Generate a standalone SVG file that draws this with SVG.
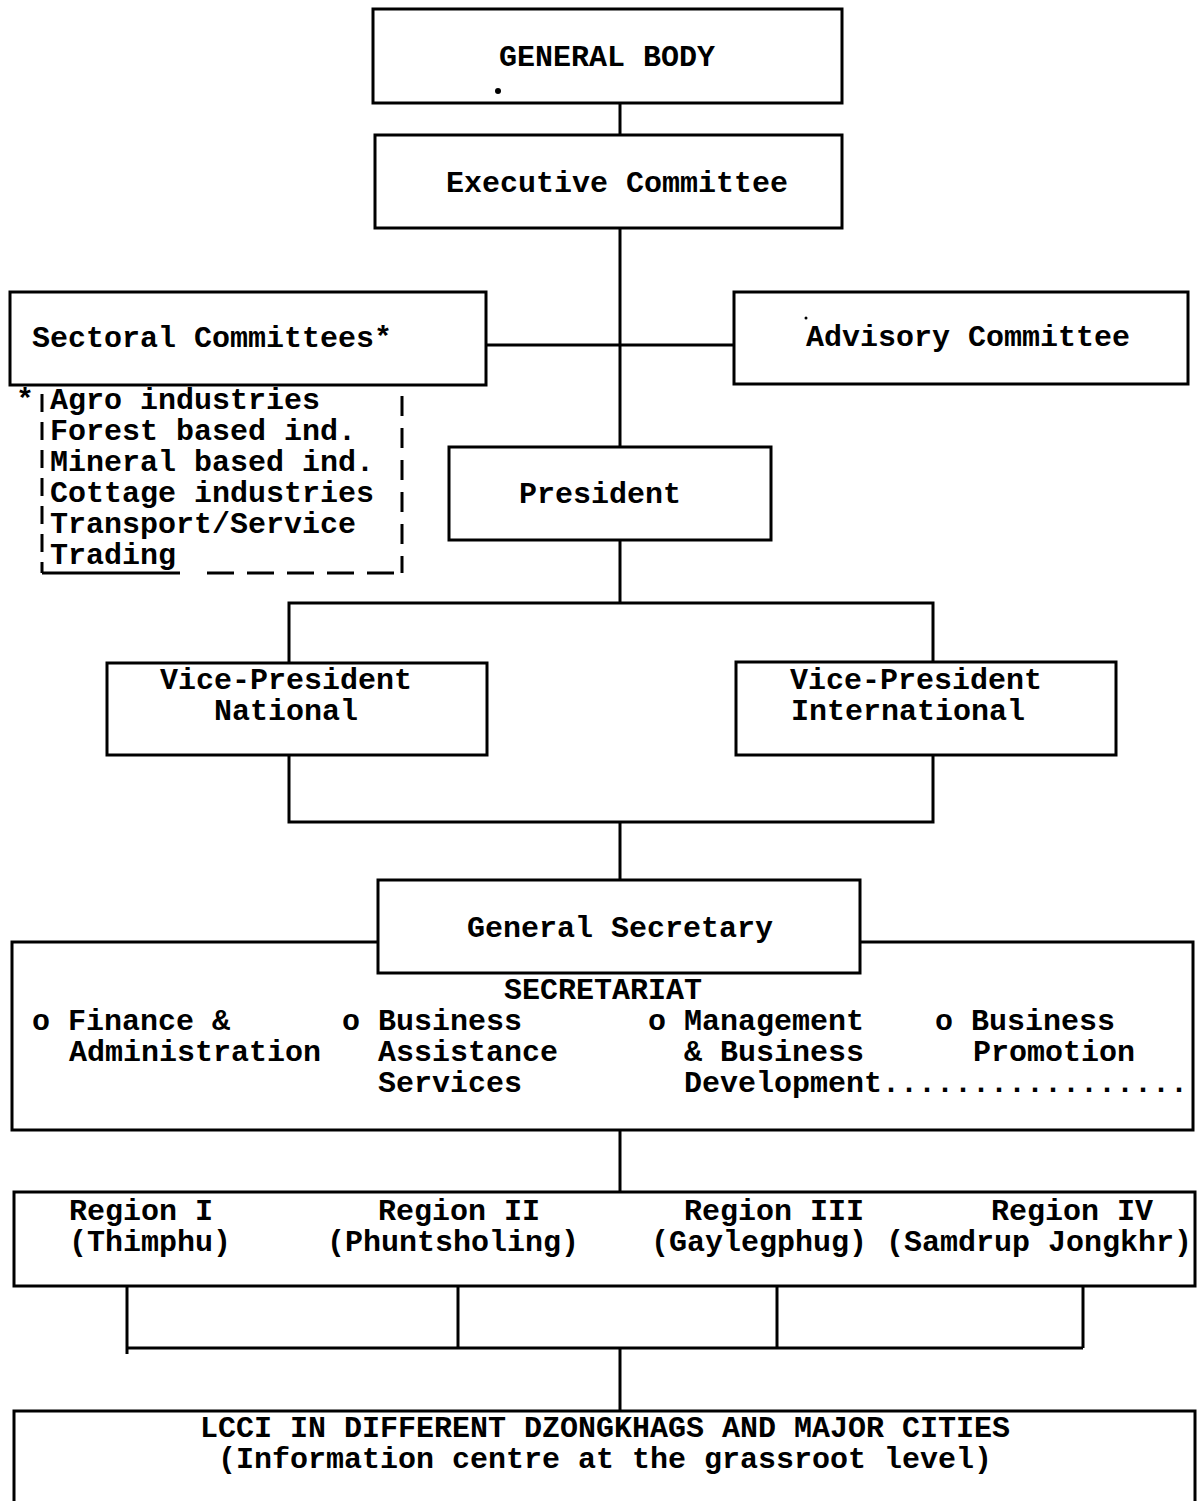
<svg xmlns="http://www.w3.org/2000/svg" width="1200" height="1501" viewBox="0 0 1200 1501">
<style>
.box{fill:#fff;stroke:#000;stroke-width:3}
.ln{stroke:#000;stroke-width:3;fill:none}
.dash{stroke:#000;stroke-width:3;fill:none}
text{font-family:"Liberation Mono","Courier New",monospace;font-weight:bold;font-size:30px;fill:#000}
</style>
<rect width="1200" height="1501" fill="#fff"/>
<g id="connectors">
<line class="ln" x1="620" y1="103" x2="620" y2="135"/>
<line class="ln" x1="620" y1="228" x2="620" y2="447"/>
<line class="ln" x1="486" y1="345" x2="734" y2="345"/>
<line class="ln" x1="620" y1="540" x2="620" y2="603"/>
<polyline class="ln" points="289,663 289,603 933,603 933,663"/>
<polyline class="ln" points="289,755 289,822 933,822 933,755"/>
<line class="ln" x1="620" y1="822" x2="620" y2="880"/>
<line class="ln" x1="620" y1="1130" x2="620" y2="1192"/>
<polyline class="ln" points="127,1286 127,1354"/>
<line class="ln" x1="127" y1="1348" x2="1083" y2="1348"/>
<line class="ln" x1="458" y1="1286" x2="458" y2="1348"/>
<line class="ln" x1="777" y1="1286" x2="777" y2="1348"/>
<line class="ln" x1="1083" y1="1286" x2="1083" y2="1348"/>
<line class="ln" x1="620" y1="1348" x2="620" y2="1411"/>
</g>
<g id="general-body">
<rect class="box" x="373" y="9" width="469" height="94"/>
<text x="607" y="66" text-anchor="middle">GENERAL BODY</text>
<circle cx="498" cy="91" r="3" fill="#000"/>
</g>
<g id="executive-committee">
<rect class="box" x="375" y="135" width="467" height="93"/>
<text x="617" y="192" text-anchor="middle">Executive Committee</text>
</g>
<g id="sectoral-committees">
<rect class="box" x="10" y="292" width="476" height="93"/>
<text x="32" y="347">Sectoral Committees*</text>
</g>
<g id="sector-list">
<text x="16" y="409" font-size="22">*</text>
<line class="dash" x1="42" y1="394" x2="42" y2="573" stroke-dasharray="18,10"/>
<line class="dash" x1="402" y1="396" x2="402" y2="573" stroke-dasharray="20,12"/>
<line class="dash" x1="42" y1="573" x2="180" y2="573"/>
<line class="dash" x1="207" y1="573" x2="404" y2="573" stroke-dasharray="27,13"/>
<text x="50" y="409">Agro industries</text>
<text x="50" y="440">Forest based ind.</text>
<text x="50" y="471">Mineral based ind.</text>
<text x="50" y="502">Cottage industries</text>
<text x="50" y="533">Transport/Service</text>
<text x="50" y="564">Trading</text>
</g>
<g id="advisory-committee">
<rect class="box" x="734" y="292" width="454" height="92"/>
<text x="806" y="346">Advisory Committee</text>
<circle cx="806" cy="318" r="1.5" fill="#000"/>
</g>
<g id="president">
<rect class="box" x="449" y="447" width="322" height="93"/>
<text x="600" y="503" text-anchor="middle">President</text>
</g>
<g id="vp-national">
<rect class="box" x="107" y="663" width="380" height="92"/>
<text x="286" y="689" text-anchor="middle">Vice-President</text>
<text x="286" y="720" text-anchor="middle">National</text>
</g>
<g id="vp-international">
<rect class="box" x="736" y="662" width="380" height="93"/>
<text x="790" y="689">Vice-President</text>
<text x="791" y="720">International</text>
</g>
<g id="secretariat">
<rect class="box" x="12" y="942" width="1181" height="188"/>
<text x="603" y="999" text-anchor="middle">SECRETARIAT</text>
<text x="32" y="1030">o Finance &amp;</text>
<text x="69" y="1061">Administration</text>
<text x="342" y="1030">o Business</text>
<text x="378" y="1061">Assistance</text>
<text x="378" y="1092">Services</text>
<text x="648" y="1030">o Management</text>
<text x="684" y="1061">&amp; Business</text>
<text x="684" y="1092">Development.................</text>
<text x="935" y="1030">o Business</text>
<text x="973" y="1061">Promotion</text>
</g>
<g id="general-secretary">
<rect class="box" x="378" y="880" width="482" height="93"/>
<text x="620" y="937" text-anchor="middle">General Secretary</text>
</g>
<g id="regions">
<rect class="box" x="14" y="1192" width="1181" height="94"/>
<text x="69" y="1220">Region I</text>
<text x="69" y="1251">(Thimphu)</text>
<text x="378" y="1220">Region II</text>
<text x="327" y="1251">(Phuntsholing)</text>
<text x="684" y="1220">Region III</text>
<text x="651" y="1251">(Gaylegphug)</text>
<text x="991" y="1220">Region IV</text>
<text x="886" y="1251">(Samdrup Jongkhr)</text>
</g>
<g id="lcci">
<rect class="box" x="14" y="1411" width="1181" height="100"/>
<text x="605" y="1437" text-anchor="middle">LCCI IN DIFFERENT DZONGKHAGS AND MAJOR CITIES</text>
<text x="605" y="1468" text-anchor="middle">(Information centre at the grassroot level)</text>
</g>
</svg>
